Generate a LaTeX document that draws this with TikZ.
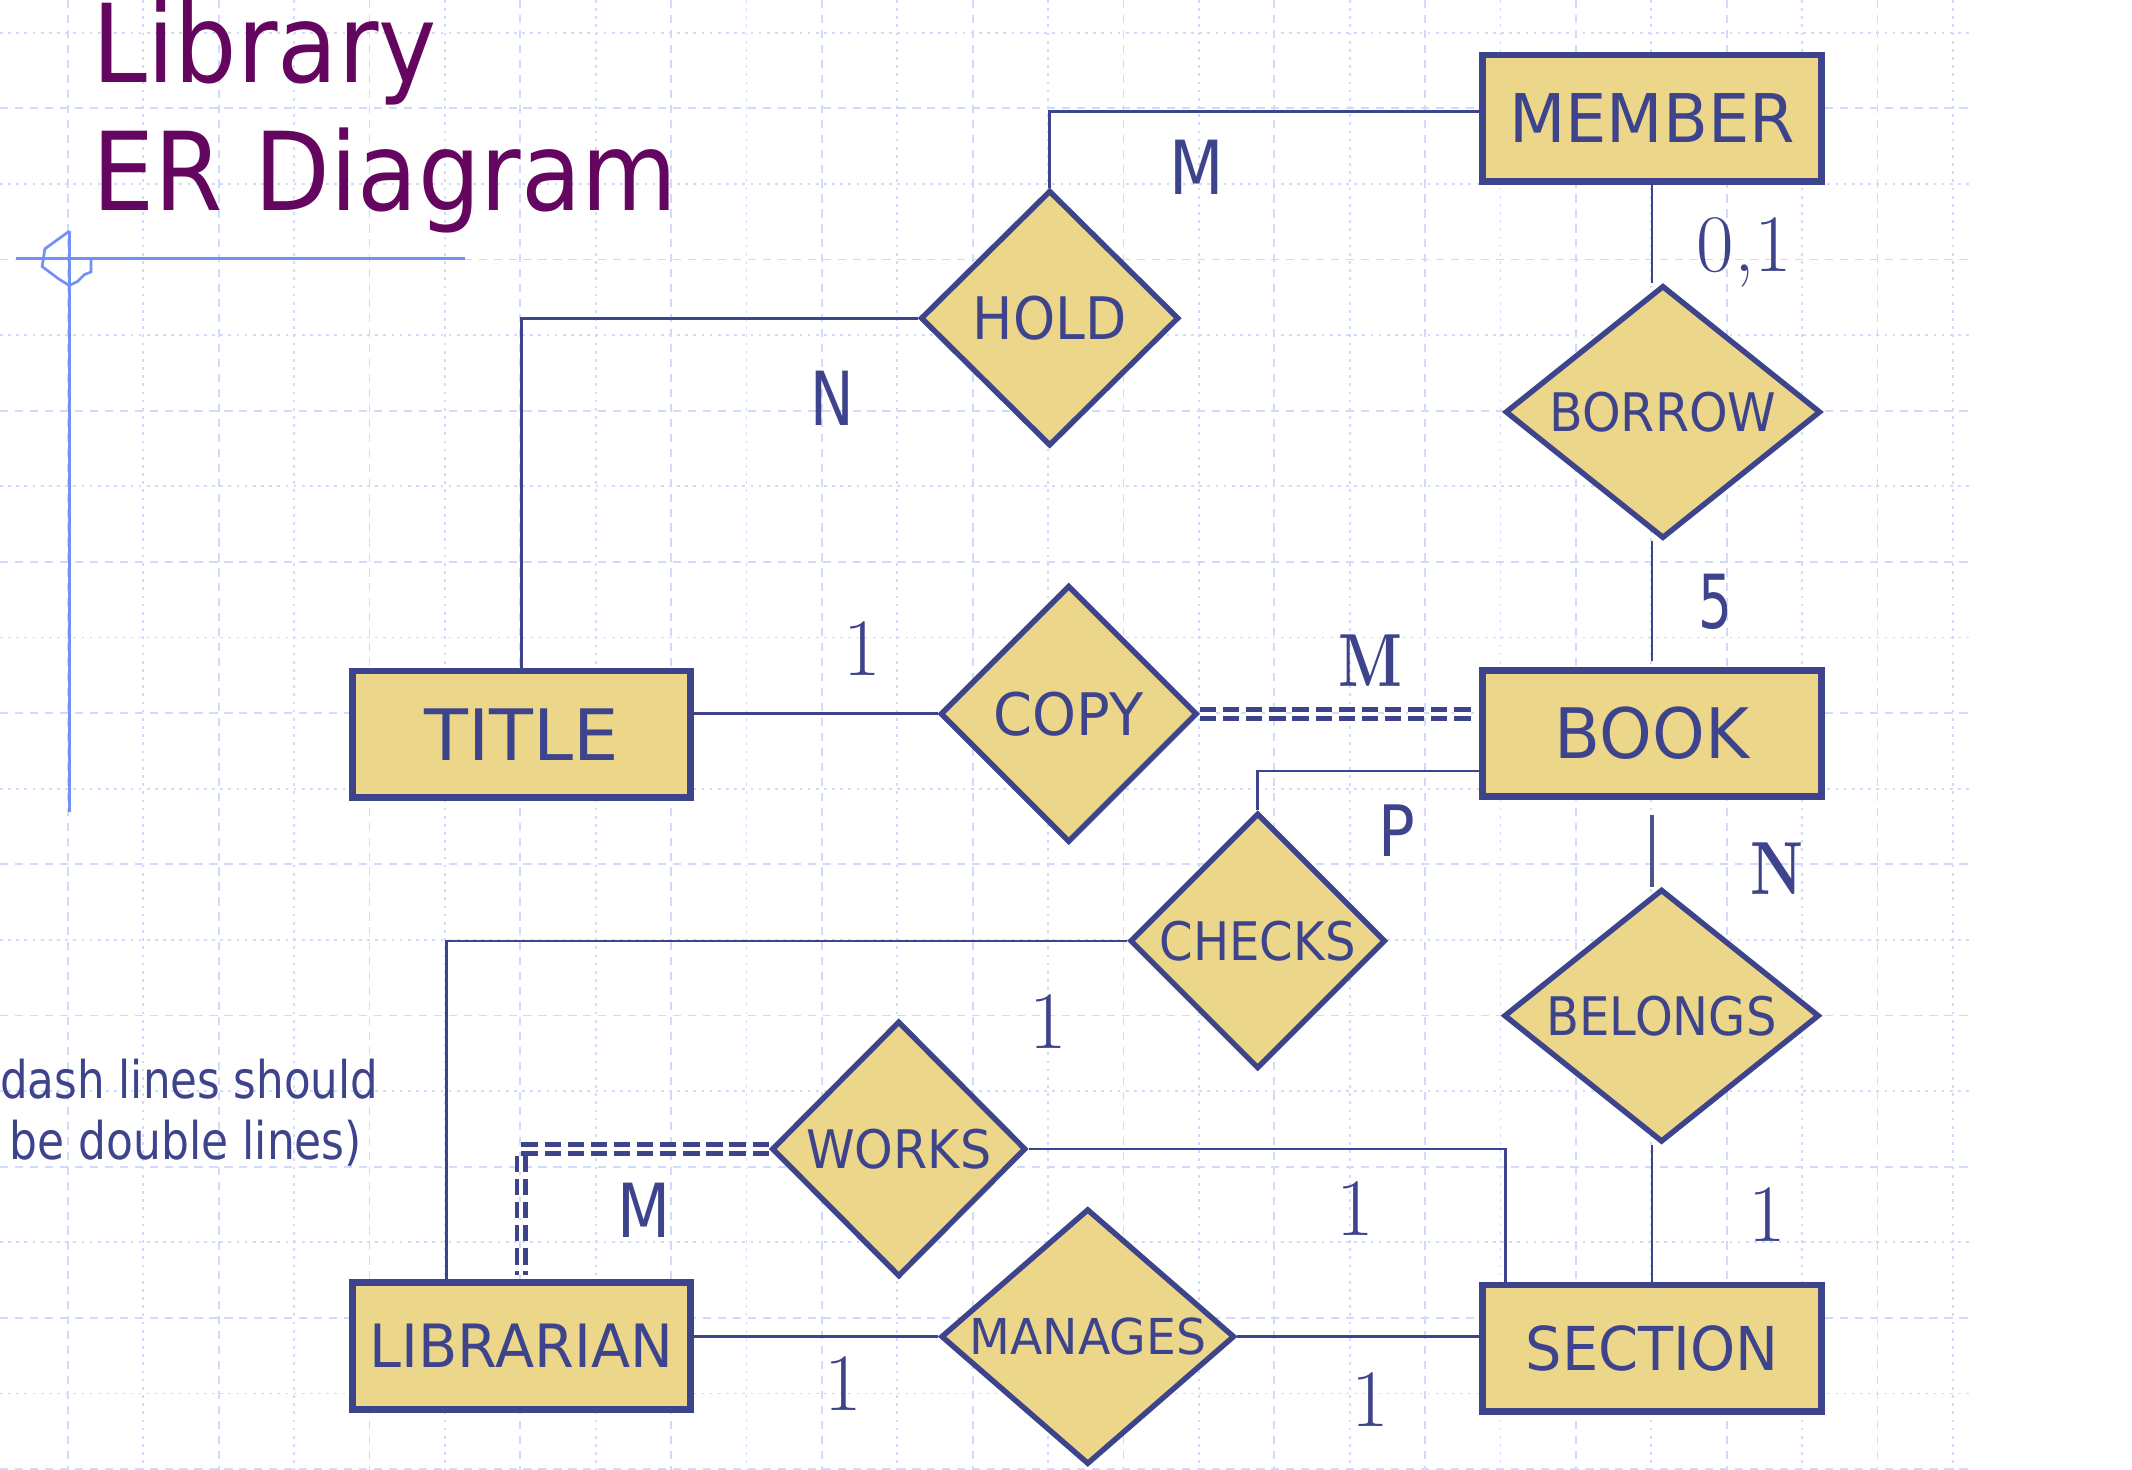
\documentclass[tikz,border=0pt]{standalone}
\usepackage{fontspec}
\usetikzlibrary{shapes.geometric,calc}
\newfontfamily\titlefont{DejaVu Sans}[FakeStretch=0.905]
\newfontfamily\sansplain{DejaVu Sans}
\definecolor{navy}{RGB}{62,68,140}
\definecolor{khaki}{RGB}{235,214,138}
\definecolor{ttl}{RGB}{100,5,95}
\definecolor{guide}{RGB}{115,145,245}
\definecolor{gridc}{RGB}{208,218,250}
\newcommand\sfbox[3]{\resizebox{#1pt}{#2pt}{\sansplain #3}}
\newcommand\bfbox[3]{\resizebox{#1pt}{#2pt}{\bfseries #3}}
\newcommand\numtxt[1]{{\fontsize{60}{60}\selectfont #1}}
\begin{document}
\begin{tikzpicture}[x=1pt,y=-1pt,
  entity/.style={draw=navy, fill=khaki, line width=5pt, minimum width=249pt, minimum height=93pt, inner sep=0pt, text=navy},
  rel/.style={diamond, draw=navy, fill=khaki, line width=4pt, inner sep=0pt, text=navy},
  conn/.style={draw=navy, line width=2pt},
  dbl/.style={draw=navy, line width=3.5pt, double=white, double distance=3pt, dash pattern=on 12pt off 5pt},
  card/.style={text=navy, inner sep=0pt, anchor=base},
  gridA/.style={draw=gridc, line width=1.3pt, dash pattern=on 6pt off 5pt},
  gridB/.style={draw=gridc, line width=1.3pt, dash pattern=on 2pt off 4pt}]
\useasboundingbox (0,0) rectangle (1568,1081);
\clip (0,0) rectangle (1568,1081);
\fill[white] (0,0) rectangle (1568,1081);
% background grid
\foreach \k in {0,...,25} {
  \pgfmathsetmacro\gx{50+55.45*\k}
  \ifodd\k \draw[gridB] (\gx,0) -- (\gx,1081); \else \draw[gridA] (\gx,0) -- (\gx,1081); \fi
}
\foreach \j in {0,...,19} {
  \pgfmathsetmacro\gy{24+55.6*\j}
  \ifodd\j \draw[gridA] (0,\gy) -- (1450,\gy); \else \draw[gridB] (0,\gy) -- (1450,\gy); \fi
}
% title
\node[anchor=base west, inner sep=0pt, text=ttl] (t1) at (68,61) {\fontsize{80}{80}\titlefont Library};
\node[anchor=base west, inner sep=0pt, text=ttl] (t2) at (68,155) {\fontsize{80}{80}\titlefont ER Diagram};
% guide lines
\draw[guide, line width=2pt] (12,190) -- (342,190);
\draw[guide, line width=2pt] (51,170) -- (51,597);
\draw[guide, line width=2pt] (51,170) -- (33,183) -- (31,196) -- (43,205) -- (51,210) -- (57,207) -- (62,202) -- (67,200) -- (67,190);
% note
\node[anchor=base west, inner sep=0pt, text=navy] (n1) at (0,808) {\sfbox{278}{29}{dash lines should}};
\node[anchor=base west, inner sep=0pt, text=navy] (n2) at (7,853) {\sfbox{259}{29}{be double lines)}};
% entities
\node[entity] (member) at (1215,87) {\sfbox{210}{36}{MEMBER}};
\node[entity] (title) at (383.5,540) {\sfbox{143}{38}{TITLE}};
\node[entity] (book) at (1215,539.5) {\sfbox{143}{38}{BOOK}};
\node[entity] (librarian) at (383.5,990) {\sfbox{223}{32}{LIBRARIAN}};
\node[entity] (section) at (1215,991.5) {\sfbox{186}{33}{SECTION}};
% relationships
\node[rel, minimum width=190pt, minimum height=188pt] (hold) at (772,234) {\sfbox{113}{32}{HOLD}};
\node[rel, aspect=1.25, minimum width=232pt, minimum height=186pt] (borrow) at (1223,303) {\sfbox{167}{29}{BORROW}};
\node[rel, minimum width=189pt, minimum height=189pt] (copy) at (786,525) {\sfbox{110}{32}{COPY}};
\node[rel, minimum width=188pt, minimum height=188pt] (checks) at (925,692) {\sfbox{144}{29}{CHECKS}};
\node[rel, aspect=1.25, minimum width=232pt, minimum height=186pt] (belongs) at (1222,747) {\sfbox{169}{29}{BELONGS}};
\node[rel, minimum width=187pt, minimum height=188pt] (works) at (661,845) {\sfbox{136}{29}{WORKS}};
\node[rel, aspect=1.15, minimum width=216pt, minimum height=188pt] (manages) at (800,983) {\sfbox{174}{27}{MANAGES}};
% connectors
\draw[conn] (hold.north) |- ($(member.west)+(0,-5)$);
\draw[conn] (hold.west) -| (title.north);
\draw[conn] (member.south) -- (member.south |- borrow.north);
\draw[conn] (book.north |- borrow.south) -- ($(book.north)+(0,-4)$);
\draw[conn] (copy.west) -- (copy.west -| title.east);
\draw[dbl] (copy.east) -- ($(copy.east -| book.west)+(-5,0)$);
\draw[conn] ($(book.west)+(0,27.5)$) -| (checks.north);
\coordinate (bk) at ($(book.south)+(0,11)$);
\draw[draw=navy!75!gray, line width=3pt] (bk) -- (bk |- belongs.north);
\draw[conn] ($(librarian.north west)+(72,0)$) |- (checks.west);
\draw[conn] (belongs.south -| section.north) -- (section.north);
\draw[conn] (works.east) -| ($(section.north west)+(19,0)$);
\draw[dbl] (works.west) -| ($(librarian.north)+(0,-3)$);
\draw[conn] (librarian.east |- manages.west) -- (manages.west);
\draw[conn] (manages.east) -- (manages.east -| section.west);
% cardinalities
\node[card] (c1) at (880,143) {\sfbox{40}{40}{M}};
\node[card] (c2) at (612,313) {\sfbox{32}{40}{N}};
\node[card] (c3) at (1283,200) {\numtxt{0,1}};
\node[card] (c4) at (1262,462) {\sfbox{25}{40}{5}};
\node[card] (c5) at (634,497) {\numtxt{1}};
\node[card] (c6) at (1008,505) {\bfbox{47}{38}{M}};
\node[card] (c7) at (1027,630) {\sfbox{27}{38}{P}};
\node[card] (c8) at (1307,658) {\bfbox{39}{38}{N}};
\node[card] (c9) at (771,771) {\numtxt{1}};
\node[card] (c10) at (997,909) {\numtxt{1}};
\node[card] (c11) at (1300,913) {\numtxt{1}};
\node[card] (c12) at (474,910) {\sfbox{39}{40}{M}};
\node[card] (c13) at (620,1037) {\numtxt{1}};
\node[card] (c14) at (1008,1049) {\numtxt{1}};
\end{tikzpicture}
\end{document}
